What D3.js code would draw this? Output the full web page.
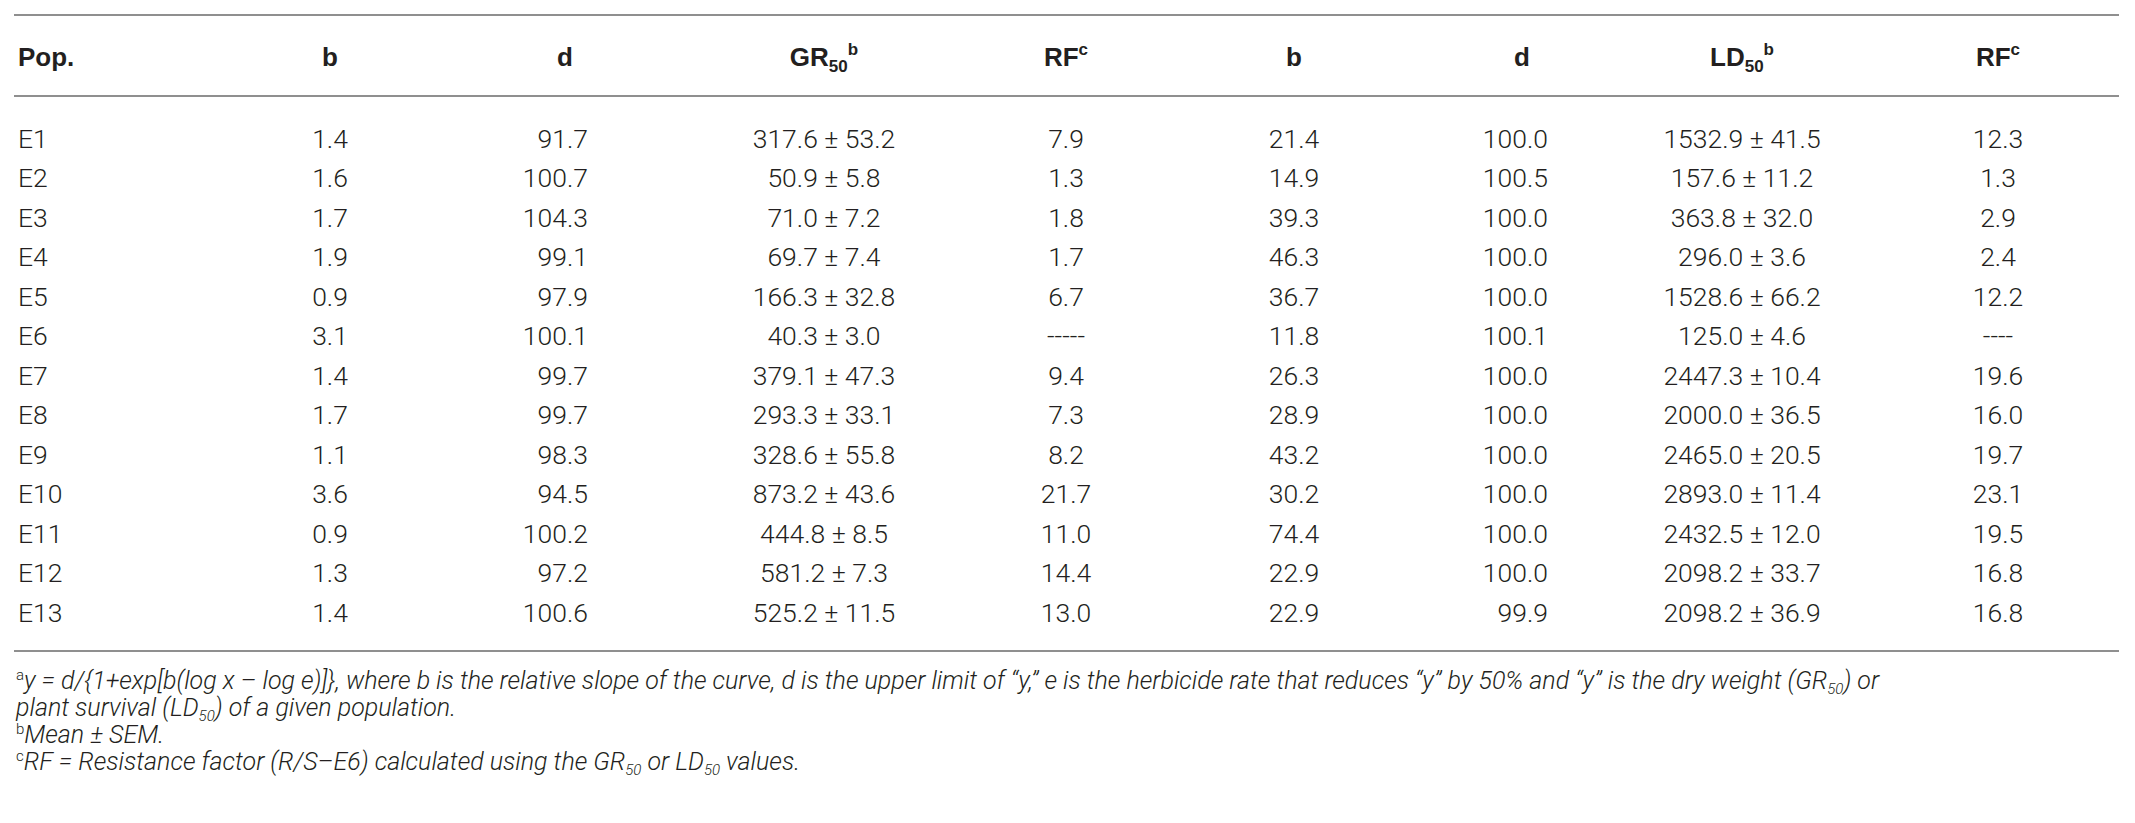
<!DOCTYPE html>
<html>
<head>
<meta charset="utf-8">
<title>Dose-response parameters</title>
<script src="https://d3js.org/d3.v7.min.js"></script>
<style>
  body { margin: 0; background: #fff; }
  svg text { fill: #231f20; }
  .body { font-family: Roboto, "Liberation Sans", sans-serif; font-weight: 300; font-size: 26.5px; }
  .head { font-family: "Liberation Sans", Arial, sans-serif; font-weight: bold; font-size: 26px; }
  .note { font-family: Roboto, "Liberation Sans", sans-serif; font-weight: 300; font-style: italic; font-size: 25px; }
  .rule { stroke: #8f8f8f; stroke-width: 2; }
</style>
</head>
<body>
<div id="chart"></div>
<script>
// table values
var pops = ["E1", "E2", "E3", "E4", "E5", "E6", "E7", "E8", "E9", "E10", "E11", "E12", "E13"];
var grB = [1.4, 1.6, 1.7, 1.9, 0.9, 3.1, 1.4, 1.7, 1.1, 3.6, 0.9, 1.3, 1.4];
var grD = [91.7, 100.7, 104.3, 99.1, 97.9, 100.1, 99.7, 99.7, 98.3, 94.5, 100.2, 97.2, 100.6];
var gr50 = [317.6, 50.9, 71.0, 69.7, 166.3, 40.3, 379.1, 293.3, 328.6, 873.2, 444.8, 581.2, 525.2];
var gr50Sem = [53.2, 5.8, 7.2, 7.4, 32.8, 3.0, 47.3, 33.1, 55.8, 43.6, 8.5, 7.3, 11.5];
var grRF = [7.9, 1.3, 1.8, 1.7, 6.7, null, 9.4, 7.3, 8.2, 21.7, 11.0, 14.4, 13.0];
var ldB = [21.4, 14.9, 39.3, 46.3, 36.7, 11.8, 26.3, 28.9, 43.2, 30.2, 74.4, 22.9, 22.9];
var ldD = [100.0, 100.5, 100.0, 100.0, 100.0, 100.1, 100.0, 100.0, 100.0, 100.0, 100.0, 100.0, 99.9];
var ld50 = [1532.9, 157.6, 363.8, 296.0, 1528.6, 125.0, 2447.3, 2000.0, 2465.0, 2893.0, 2432.5, 2098.2, 2098.2];
var ld50Sem = [41.5, 11.2, 32.0, 3.6, 66.2, 4.6, 10.4, 36.5, 20.5, 11.4, 12.0, 33.7, 36.9];
var ldRF = [12.3, 1.3, 2.9, 2.4, 12.2, null, 19.6, 16.0, 19.7, 23.1, 19.5, 16.8, 16.8];

var f1 = d3.format(".1f");

// columns: how each cell is written and where
var columns = [
    { head: [["Pop."]], anchor: "start", x: 18, hx: 18, text: function (i) { return pops[i]; } },
    { head: [["b"]], anchor: "middle", x: 330, hx: 330, text: function (i) { return f1(grB[i]); } },
    { head: [["d"]], anchor: "end", x: 588, hx: 565, hanchor: "middle", text: function (i) { return f1(grD[i]); } },
    { head: [["GR"], ["50", "sub"], ["b", "sup"]], anchor: "middle", x: 824, hx: 824, text: function (i) { return f1(gr50[i]) + " \u00b1 " + f1(gr50Sem[i]); } },
    { head: [["RF"], ["c", "sup"]], anchor: "middle", x: 1066, hx: 1066, text: function (i) { return grRF[i] == null ? "-----" : f1(grRF[i]); } },
    { head: [["b"]], anchor: "middle", x: 1294, hx: 1294, text: function (i) { return f1(ldB[i]); } },
    { head: [["d"]], anchor: "end", x: 1548, hx: 1522, hanchor: "middle", text: function (i) { return f1(ldD[i]); } },
    { head: [["LD"], ["50", "sub"], ["b", "sup"]], anchor: "middle", x: 1742, hx: 1742, text: function (i) { return f1(ld50[i]) + " \u00b1 " + f1(ld50Sem[i]); } },
    { head: [["RF"], ["c", "sup"]], anchor: "middle", x: 1998, hx: 1998, text: function (i) { return ldRF[i] == null ? "----" : f1(ldRF[i]); } }
];

var W = 2135, H = 823;
var svg = d3.select("#chart").append("svg")
    .attr("width", W)
    .attr("height", H);

var y = d3.scalePoint().domain(pops).range([138, 612]);

// rules
[15, 96, 651].forEach(function (ry) {
    svg.append("line").attr("class", "rule")
        .attr("x1", 14).attr("x2", 2119)
        .attr("y1", ry).attr("y2", ry);
});

// header, with sub/superscripts
columns.forEach(function (c) {
    var t = svg.append("text").attr("class", "head")
        .attr("x", c.hx).attr("y", 66)
        .attr("text-anchor", c.hanchor || c.anchor);
    var shift = 0;
    c.head.forEach(function (p) {
        var s = t.append("tspan").text(p[0]);
        if (p[1] === "sub") { s.attr("font-size", "17px").attr("dy", 6 - shift); shift = 6; }
        if (p[1] === "sup") { s.attr("font-size", "17px").attr("dy", -11 - shift); shift = -11; }
    });
});

// body cells
columns.forEach(function (c) {
    svg.append("g").selectAll("text")
        .data(pops)
        .join("text")
        .attr("class", "body")
        .attr("x", c.x)
        .attr("y", function (p) { return y(p); })
        .attr("dy", "0.36em")
        .attr("text-anchor", c.anchor)
        .text(function (p, i) { return c.text(i); });
});

// footnotes
var notes = [
    [["a", "sup"], ["y = d/{1+exp[b(log x \u2013 log e)]}, where b is the relative slope of the curve, d is the upper limit of \u201cy,\u201d e is the herbicide rate that reduces \u201cy\u201d by 50% and \u201cy\u201d is the dry weight (GR", "back"], ["50", "sub"], [") or", "back"]],
    [["plant survival (LD", "back"], ["50", "sub"], [") of a given population.", "back"]],
    [["b", "sup"], ["Mean \u00b1 SEM.", "back"]],
    [["c", "sup"], ["RF = Resistance factor (R/S\u2013E6) calculated using the GR", "back"], ["50", "sub"], [" or LD", "back"], ["50", "sub"], [" values.", "back"]]
];
var noteY = [689, 716, 743, 770];
notes.forEach(function (parts, k) {
    var t = svg.append("text").attr("class", "note")
        .attr("x", 16).attr("y", noteY[k]);
    var shift = 0;
    parts.forEach(function (p) {
        var s = t.append("tspan").text(p[0]);
        if (p[1] === "sup") { s.attr("font-size", "15px").attr("font-style", "normal").attr("dy", -9 - shift); shift = -9; }
        else if (p[1] === "sub") { s.attr("font-size", "15px").attr("dy", 5 - shift); shift = 5; }
        else if (p[1] === "back") { s.attr("dy", -shift); shift = 0; }
    });
});
</script>
</body>
</html>
